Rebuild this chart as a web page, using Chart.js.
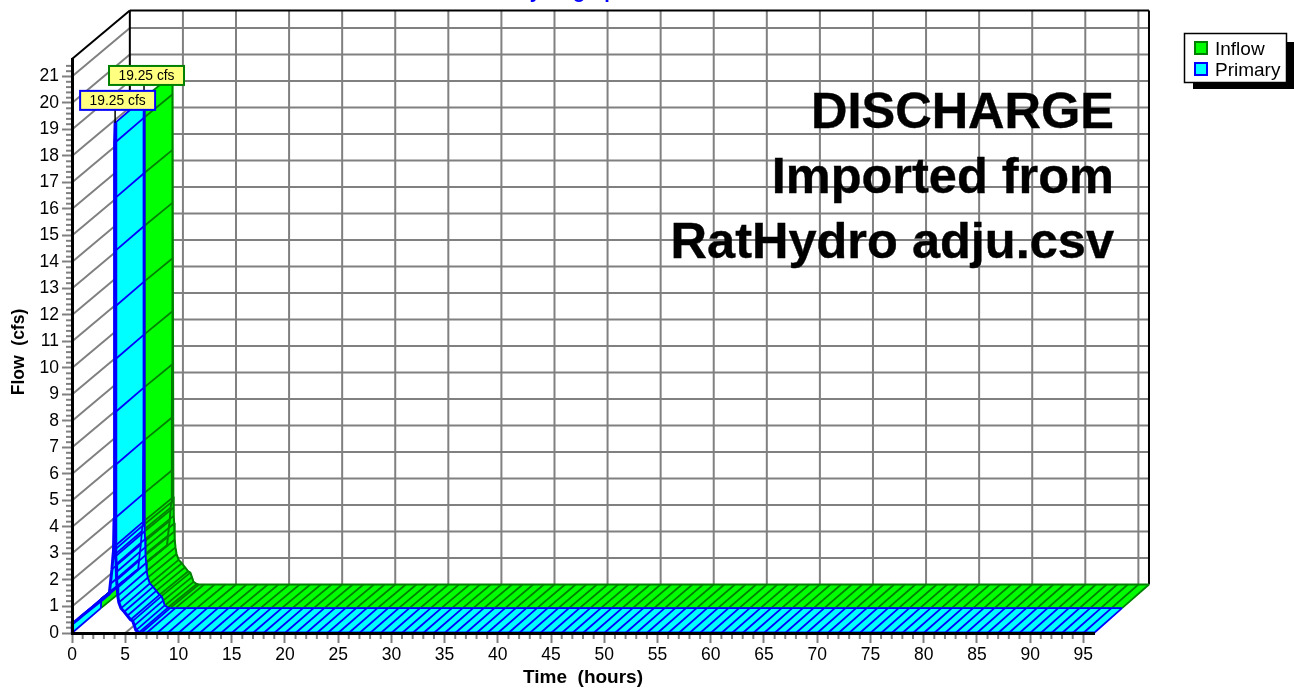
<!DOCTYPE html>
<html>
<head>
<meta charset="utf-8">
<title>Hydrograph</title>
<script src="https://cdn.jsdelivr.net/npm/chart.js@4/dist/chart.umd.min.js"></script>
<style>
  html, body { margin: 0; padding: 0; background: #fff; overflow: hidden; }
  canvas { display: block; }
</style>
</head>
<body>
<canvas id="hydrograph" width="1294" height="690"></canvas>
<script>
// values
const timeHours = [0, 0.03, 0.5, 1, 1.5, 2, 2.5, 3, 3.3, 3.5, 3.6, 3.75, 3.85, 3.9, 3.95, 3.97, 3.98, 3.99, 4, 4.01, 4.02, 4.03, 4.05,
  4.1, 4.12, 4.15, 4.18, 4.2, 4.25, 4.3, 4.4, 4.6, 4.9, 5.2, 5.5, 5.7, 5.85, 6, 6.3, 6.5,
  7, 8, 9, 10, 11, 12, 13, 14, 15, 16, 17, 18, 19, 20, 21, 22, 23, 24, 25, 26, 27, 28, 29, 30,
  31, 32, 33, 34, 35, 36, 37, 38, 39, 40, 41, 42, 43, 44, 45, 46, 47, 48, 49, 50, 51, 52, 53, 54,
  55, 56, 57, 58, 59, 60, 61, 62, 63, 64, 65, 66, 67, 68, 69, 70, 71, 72, 73, 74, 75, 76, 77, 78,
  79, 80, 81, 82, 83, 84, 85, 86, 87, 88, 89, 90, 91, 92, 93, 94, 95, 96];
const inflowCfs = [0, 0.35, 0.5, 0.67, 0.83, 0.99, 1.15, 1.31, 1.41, 1.47, 1.85, 2.4, 2.9, 3.1, 4.3, 6.3, 8.3, 10.3, 12.3, 14.4, 16.4, 18.5, 19.25,
  3.3, 2.9, 2.6, 2.3, 2, 1.7, 1.4, 1.15, 0.93, 0.8, 0.65, 0.5, 0.45, 0.28, 0.1, 0.02, 0,
  0, 0, 0, 0, 0, 0, 0, 0, 0, 0, 0, 0, 0, 0, 0, 0, 0, 0, 0, 0, 0, 0, 0, 0,
  0, 0, 0, 0, 0, 0, 0, 0, 0, 0, 0, 0, 0, 0, 0, 0, 0, 0, 0, 0, 0, 0, 0, 0,
  0, 0, 0, 0, 0, 0, 0, 0, 0, 0, 0, 0, 0, 0, 0, 0, 0, 0, 0, 0, 0, 0, 0, 0,
  0, 0, 0, 0, 0, 0, 0, 0, 0, 0, 0, 0, 0, 0, 0, 0, 0, 0];
const primaryCfs = [0, 0.35, 0.5, 0.67, 0.83, 0.99, 1.15, 1.31, 1.41, 1.47, 1.85, 2.4, 2.9, 3.1, 4.3, 6.3, 8.3, 10.3, 12.3, 14.4, 16.4, 18.5, 19.25,
  3.3, 2.9, 2.6, 2.3, 2, 1.7, 1.4, 1.15, 0.93, 0.8, 0.65, 0.5, 0.45, 0.28, 0.1, 0.02, 0,
  0, 0, 0, 0, 0, 0, 0, 0, 0, 0, 0, 0, 0, 0, 0, 0, 0, 0, 0, 0, 0, 0, 0, 0,
  0, 0, 0, 0, 0, 0, 0, 0, 0, 0, 0, 0, 0, 0, 0, 0, 0, 0, 0, 0, 0, 0, 0, 0,
  0, 0, 0, 0, 0, 0, 0, 0, 0, 0, 0, 0, 0, 0, 0, 0, 0, 0, 0, 0, 0, 0, 0, 0,
  0, 0, 0, 0, 0, 0, 0, 0, 0, 0, 0, 0, 0, 0, 0, 0, 0, 0];
const seriesNames = ['Inflow', 'Primary'];
const noteLines = ['DISCHARGE', 'Imported from', 'RatHydro adju.csv'];
const FONT = '"Liberation Sans", Arial, sans-serif';
const GRID = '#808080';
const XMAX = 96, YMAX = 21.66;

const points = (ys) => timeHours.map((t, i) => ({ x: t, y: ys[i] }));

function edge(label, ys, xAxisID, yAxisID, color, width, ribbon) {
  return {
    label, data: points(ys), xAxisID, yAxisID,
    borderColor: color, borderWidth: width, backgroundColor: color,
    pointRadius: 0, pointHoverRadius: 0, tension: 0, fill: false, clip: false,
    borderJoinStyle: 'round', ribbon
  };
}

// hidden scales shift the same values back in depth: mid plane and back wall.
// range is set after the limits so the line controller keeps points past the end
const depthScale = (axis, min, max) => ({
  type: 'linear', axis, display: false, bounds: 'data',
  afterDataLimits: (s) => { s.min = min; s.max = max; }
});

function drawWalls(chart) {
  const { ctx, scales } = chart;
  const { x, y, xBack, yBack } = scales;
  const backX = (t) => xBack.getPixelForValue(t);
  const backY = (q) => yBack.getPixelForValue(q);
  ctx.save();
  ctx.strokeStyle = GRID;
  ctx.lineWidth = 2;
  const seg = (a, b, c, d) => { ctx.beginPath(); ctx.moveTo(a, b); ctx.lineTo(c, d); ctx.stroke(); };

  for (let q = 1; q <= 21; q++) {
    seg(x.left, y.getPixelForValue(q), backX(0), backY(q));
    seg(backX(0), backY(q), backX(XMAX), backY(q));
  }
  for (let t = 5; t <= 95; t += 5) {
    seg(x.getPixelForValue(t), y.bottom, backX(t), backY(0));
    seg(backX(t), backY(0), backX(t), backY(YMAX));
  }
  // minor ticks
  for (let t = 1; t < XMAX; t++) {
    if (t % 5) seg(x.getPixelForValue(t), y.bottom, x.getPixelForValue(t), y.bottom + 6);
  }
  for (let i = 1; i < 108; i++) {
    if (i % 5) seg(x.left - 6, y.getPixelForValue(i / 5), x.left, y.getPixelForValue(i / 5));
  }
  ctx.strokeStyle = '#000';
  seg(backX(0), backY(0), backX(0), backY(YMAX));
  seg(backX(0), backY(YMAX), backX(XMAX), backY(YMAX));
  seg(backX(XMAX), backY(YMAX), backX(XMAX), backY(0));
  seg(x.left, y.top, backX(0), backY(YMAX));
  ctx.restore();
}

// the top surface of a series: quads between its front and back edge, one depth line per point
function drawRibbon(chart, front, back, fill, hatch) {
  const { ctx } = chart;
  const a = chart.getDatasetMeta(front).data;
  const b = chart.getDatasetMeta(back).data;
  ctx.save();
  ctx.fillStyle = fill;
  ctx.strokeStyle = fill;
  ctx.lineWidth = 0.6;
  for (let i = 0; i < a.length - 1; i++) {
    ctx.beginPath();
    ctx.moveTo(a[i].x, a[i].y);
    ctx.lineTo(a[i + 1].x, a[i + 1].y);
    ctx.lineTo(b[i + 1].x, b[i + 1].y);
    ctx.lineTo(b[i].x, b[i].y);
    ctx.closePath();
    ctx.fill();
    ctx.stroke();
  }
  ctx.strokeStyle = hatch;
  ctx.lineWidth = 1.8;
  for (let i = 0; i < a.length; i++) {
    ctx.beginPath();
    ctx.moveTo(a[i].x, a[i].y);
    ctx.lineTo(b[i].x, b[i].y);
    ctx.stroke();
  }
  ctx.restore();
}

function peakLabel(chart, index, ys, color) {
  const { ctx } = chart;
  const peak = ys.indexOf(Math.max(...ys));
  const p = chart.getDatasetMeta(index).data[peak];
  const left = p.x - 35, top = p.y - 32, w = 75, h = 19;
  ctx.save();
  ctx.strokeStyle = '#000';
  ctx.lineWidth = 1.5;
  ctx.beginPath();
  ctx.moveTo(p.x, p.y);
  ctx.lineTo(p.x, top + h);
  ctx.stroke();
  ctx.fillStyle = '#FFFF80';
  ctx.fillRect(left, top, w, h);
  ctx.strokeStyle = color;
  ctx.lineWidth = 2;
  ctx.strokeRect(left, top, w, h);
  ctx.fillStyle = '#000';
  ctx.font = '13.8px ' + FONT;
  ctx.textAlign = 'center';
  ctx.textBaseline = 'middle';
  ctx.fillText(ys[peak] + ' cfs', left + w / 2, top + h / 2 + 0.5);
  ctx.restore();
}

function drawLegend(ctx) {
  ctx.save();
  ctx.fillStyle = '#000';
  ctx.fillRect(1193, 42, 101, 47);
  ctx.fillStyle = '#fff';
  ctx.fillRect(1184, 33, 103, 50);
  ctx.strokeStyle = '#000';
  ctx.lineWidth = 1.5;
  ctx.strokeRect(1184.5, 33.5, 102, 49);
  const swatches = [['#00FF00', '#008000', 41], ['#00FFFF', '#0000FF', 62]];
  seriesNames.forEach((name, i) => {
    const [fill, line, top] = swatches[i];
    ctx.fillStyle = fill;
    ctx.fillRect(1195, top + 1, 12, 12);
    ctx.strokeStyle = line;
    ctx.lineWidth = 2;
    ctx.strokeRect(1195, top + 1, 12, 12);
    ctx.fillStyle = '#000';
    ctx.font = '19px ' + FONT;
    ctx.textAlign = 'left';
    ctx.textBaseline = 'middle';
    ctx.fillText(name, 1215, top + 9);
  });
  ctx.restore();
}

const hydroPlugin = {
  id: 'hydro3d',
  beforeDatasetsDraw(chart) {
    drawWalls(chart);
  },
  beforeDatasetDraw(chart, args) {
    const r = chart.data.datasets[args.index].ribbon;
    if (r) drawRibbon(chart, r.front, args.index, r.fill, r.hatch);
  },
  afterDatasetsDraw(chart) {
    const { ctx } = chart;
    peakLabel(chart, 2, inflowCfs, '#008000');
    peakLabel(chart, 0, primaryCfs, '#0000FF');
    ctx.save();
    ctx.fillStyle = '#000';
    ctx.strokeStyle = '#000';
    ctx.lineWidth = 0.4;
    ctx.font = 'bold 50.5px ' + FONT;
    ctx.textAlign = 'right';
    ctx.textBaseline = 'alphabetic';
    noteLines.forEach((line, i) => {
      ctx.fillText(line, 1114, 128 + i * 64.75);
      ctx.strokeText(line, 1114, 128 + i * 64.75);
    });
    // axis titles
    ctx.textAlign = 'center';
    ctx.font = 'bold 19px ' + FONT;
    ctx.fillText('Time  (hours)', 583, 683);
    ctx.save();
    ctx.translate(24, 352);
    ctx.rotate(-Math.PI / 2);
    ctx.font = 'bold 17.5px ' + FONT;
    ctx.fillText('Flow  (cfs)', 0, 0);
    ctx.restore();
    // title sits mostly above the page edge
    ctx.fillStyle = '#0000FF';
    ctx.font = 'bold 20px ' + FONT;
    ctx.fillText('Hydrograph', 572, -2);
    ctx.restore();
    drawLegend(ctx);
  }
};

new Chart(document.getElementById('hydrograph'), {
  type: 'line',
  data: {
    datasets: [
      edge('Primary', primaryCfs, 'x', 'y', '#0000FF', 3),
      edge('Primary back', primaryCfs, 'xMid', 'yMid', '#0000FF', 1.8, { front: 0, fill: '#00FFFF', hatch: '#0000FF' }),
      edge('Inflow', inflowCfs, 'xMid', 'yMid', '#008000', 1.8),
      edge('Inflow back', inflowCfs, 'xBack', 'yBack', '#008000', 2, { front: 2, fill: '#00FF00', hatch: '#008000' })
    ]
  },
  options: {
    responsive: false,
    animation: false,
    events: [],
    layout: { padding: { top: 59, right: 200, left: 0, bottom: 0 } },
    plugins: { legend: { display: false }, title: { display: false }, tooltip: { enabled: false } },
    scales: {
      x: {
        type: 'linear', position: 'bottom', min: 0, max: XMAX,
        afterFit: (s) => { s.height = 57; },
        grid: { drawOnChartArea: false, color: GRID, tickColor: GRID, tickLength: 10, tickWidth: 2 },
        border: { color: '#000', width: 3, z: 1 },
        ticks: { stepSize: 5, includeBounds: false, color: '#000', padding: 2, maxRotation: 0, autoSkip: false, font: { family: FONT, size: 17.5 } },
      },
      y: {
        type: 'linear', position: 'left', min: 0, max: YMAX,
        afterFit: (s) => { s.width = 72; },
        grid: { drawOnChartArea: false, color: GRID, tickColor: GRID, tickLength: 10, tickWidth: 2 },
        border: { color: '#000', width: 3, z: 1 },
        ticks: { stepSize: 1, includeBounds: false, color: '#000', padding: 3, autoSkip: false, font: { family: FONT, size: 17.5 } },
      },
      xMid: depthScale('x', -2.72, 93.36),
      yMid: depthScale('y', -0.94, 20.72),
      xBack: depthScale('x', -5.448, 90.82),
      yBack: depthScale('y', -1.83, 19.83)
    }
  },
  plugins: [hydroPlugin]
});
</script>
</body>
</html>
